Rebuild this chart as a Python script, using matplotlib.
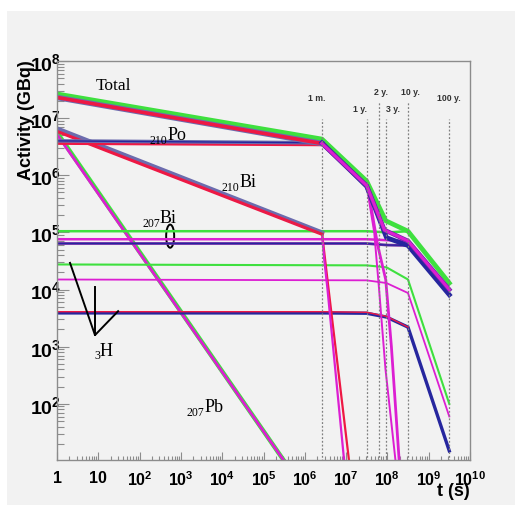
import matplotlib
matplotlib.use("Agg")
import matplotlib.pyplot as plt
from matplotlib.patches import Ellipse, Rectangle
from matplotlib.ticker import LogLocator, FixedLocator, FixedFormatter, NullFormatter

# --- colours
GREEN = '#3ee03e'
MAGENTA = '#dc1ed2'
RED = '#ee1844'
BLUE = '#26269e'
PURPLE = '#6a2aa6'
GRAYBLUE = '#6c6cae'

# --- reference times (s) for the dotted markers
mark_t = [2.63e6, 3.15e7, 6.3e7, 9.46e7, 3.15e8, 3.15e9]
mark_top = [9.6e6, 9.6e6, 2.0e7, 9.6e6, 2.0e7, 9.6e6]
mark_text = ['1 m.', '1 y.', '2 y.', '3 y.', '10 y.', '100 y.']
mark_text_t = [2.0e6, 2.2e7, 6.9e7, 1.38e8, 3.7e8, 3.1e9]
mark_text_a = [2.3e7, 1.5e7, 2.9e7, 1.5e7, 2.9e7, 2.3e7]

# --- Total
tot_g_t = [1, 2.6e6, 3.15e7, 9.1e7, 3.15e8, 3.15e9]
tot_g_a = [2.65e7, 4.3e6, 7.9e5, 1.6e5, 1.05e5, 1.3e4]
tot_r_t = [1, 2.6e6]
tot_r_a = [2.3e7, 3.6e6]
tot_b_t = [2.6e6, 3.15e7, 9.5e7, 3.15e8, 3.15e9]
tot_b_a = [3.7e6, 6.4e5, 8.1e4, 5.9e4, 8.1e3]
tot_m_t = [2.6e6, 3.15e7, 8.5e7, 3.15e8, 3.15e9]
tot_m_a = [3.6e6, 6.6e5, 1.1e5, 7.1e4, 1.0e4]

# --- 210Po
po_t = [1, 2.6e6]
po_r_a = [3.7e6, 3.5e6]
po_b_a = [4.0e6, 3.7e6]
po_end1_t = [3.15e7, 4.8e7, 6.3e7, 9.0e7, 1.6e8]
po_end1_a = [6.6e5, 1.0e5, 1.0e4, 4.0e2, 9.0]
po_end2_t = [3.6e7, 5.8e7, 9.1e7, 1.25e8, 1.95e8]
po_end2_a = [4.5e5, 6.0e4, 1.5e4, 1.0e3, 9.0]

# --- 210Bi
bi210_t = [1, 2.6e6]
bi210_r_a = [6.0e6, 9.5e4]
bi210_b_a = [6.6e6, 1.0e5]
bi210_m_t = [2.6e6, 2.95e6, 3.55e6, 9.1e6]
bi210_m_a = [1.0e5, 3.4e4, 1.0e4, 9.0]
bi210_r2_t = [2.6e6, 3.55e6, 1.2e7]
bi210_r2_a = [1.0e5, 1.45e4, 9.0]

# --- 207Bi
bi207_t = [1, 3.15e7, 1.0e8, 3.15e8]
bi207_g_a = [1.05e5, 1.05e5, 1.0e5, 1.05e5]
bi207_m_a = [7.6e4, 7.6e4, 7.3e4, 7.1e4]
bi207_p_a = [6.4e4, 6.4e4, 6.0e4, 5.9e4]

# --- second pair of flat lines
flat_t = [1, 3.15e7, 9.5e7, 3.15e8, 3.15e9]
flat_g_a = [2.75e4, 2.65e4, 2.45e4, 1.5e4, 1.0e2]
flat_m_a = [1.5e4, 1.45e4, 1.3e4, 8.7e3, 60]

# --- 3H
h3_t = [1, 2.6e6, 3.15e7, 9.5e7, 3.15e8, 3.15e9]
h3_b_a = [3.9e3, 3.9e3, 3.85e3, 3.3e3, 2.2e3, 15]
h3_r_a = [4.1e3, 4.1e3, 4.0e3, 3.4e3, 2.2e3]

# --- 207Pb
pb_t = [1, 3.5e5]
pb_g_a = [5.6e6, 9.0]
pb_m_a = [5.2e6, 9.0]

plt.rcParams['mathtext.fontset'] = 'custom'
plt.rcParams['mathtext.bf'] = 'Liberation Sans:bold'
plt.rcParams['mathtext.rm'] = 'Liberation Sans'

fig = plt.figure(figsize=(5.15, 5.06), dpi=100)
fig.patch.set_facecolor('white')
fig.patches.append(Rectangle((7 / 515, 0), 1, 1 - 12 / 506, transform=fig.transFigure,
                             facecolor='#f2f2f2', edgecolor='none', zorder=-10))
ax = fig.add_axes([57 / 515, 45 / 506, 413 / 515, 399 / 506])
ax.set_facecolor('#f2f2f2')
ax.set_xscale('log')
ax.set_yscale('log')
ax.set_xlim(1, 1e10)
ax.set_ylim(10.4, 1e8)

# dotted markers
ax.vlines(mark_t, 10, mark_top, colors='#808080', linestyles=(0, (1.5, 1.5)), lw=0.9, zorder=5)
for tt, aa, s in zip(mark_text_t, mark_text_a, mark_text):
    ax.text(tt, aa, s, ha='center', va='center', fontsize=6.3, fontweight='bold',
            family='Liberation Sans', color='#333333')

# curves
ax.plot(pb_t, pb_g_a, color=GREEN, lw=3.2)
ax.plot(pb_t, pb_m_a, color=MAGENTA, lw=2.0)

ax.plot(flat_t, flat_g_a, color=GREEN, lw=1.5)
ax.plot(flat_t, flat_m_a, color=MAGENTA, lw=1.3)

ax.plot(h3_t, h3_b_a, color=BLUE, lw=2.4)
ax.plot(h3_t[:5], h3_r_a, color=RED, lw=1.0)

ax.plot(bi207_t, bi207_g_a, color=GREEN, lw=1.8)
ax.plot(bi207_t, bi207_m_a, color=MAGENTA, lw=1.8)
ax.plot(bi207_t, bi207_p_a, color=PURPLE, lw=2.0)
ax.plot(bi207_t, bi207_p_a, color=BLUE, lw=0.8)

ax.plot(bi210_r2_t, bi210_r2_a, color=RED, lw=1.6)
ax.plot(bi210_m_t, bi210_m_a, color=MAGENTA, lw=1.6)
ax.plot(bi210_t, bi210_r_a, color=RED, lw=3.0)
ax.plot(bi210_t, bi210_b_a, color=GRAYBLUE, lw=3.0)
ax.plot(bi210_t, bi210_r_a, color=RED, lw=1.5)

ax.plot(po_end1_t, po_end1_a, color=MAGENTA, lw=1.4)
ax.plot(po_end2_t, po_end2_a, color=MAGENTA, lw=2.0)

ax.plot(po_t, po_r_a, color=RED, lw=3.0)
ax.plot(po_t, po_b_a, color=GRAYBLUE, lw=2.6)
ax.plot(po_t, po_b_a, color=BLUE, lw=1.0)

ax.plot(tot_g_t, tot_g_a, color=GREEN, lw=3.4)
ax.plot(tot_r_t, tot_r_a, color=GRAYBLUE, lw=4.0)
ax.plot(tot_r_t, tot_r_a, color=RED, lw=2.6)
ax.plot(tot_b_t, tot_b_a, color=BLUE, lw=3.4)
ax.plot(tot_m_t, tot_m_a, color=PURPLE, lw=3.2)
ax.plot(tot_m_t, tot_m_a, color=MAGENTA, lw=2.2)

# labels in the plot
serif = 'Liberation Serif'
def iso_label(t, a, mass, sym):
    ax.annotate(sym, (t, a), ha='left', va='baseline', fontsize=13, family=serif)
    ax.annotate(mass, (t, a), xytext=(0, -2.5), textcoords='offset points',
                ha='right', va='baseline', fontsize=8.5, family=serif)

ax.text(8.8, 3.2e7, 'Total', ha='left', va='baseline', fontsize=12.5, family=serif)
iso_label(480, 4.3e6, '210', 'Po')
iso_label(2.6e4, 6.4e5, '210', 'Bi')
iso_label(309, 1.5e5, '207', 'Bi')
iso_label(11, 720, '3', 'H')
iso_label(3.7e3, 74, '207', 'Pb')

ax.add_patch(Ellipse((0.274, 0.561), 0.0194, 0.058, transform=ax.transAxes,
                     fill=False, edgecolor='black', lw=1.4))
ax.plot([0.0315, 0.092, 0.148], [0.494, 0.313, 0.373], color='black', lw=1.4,
        transform=ax.transAxes)
ax.plot([0.092, 0.092], [0.313, 0.434], color='black', lw=1.4, transform=ax.transAxes)

# axes styling
for side in ['top', 'right', 'left', 'bottom']:
    ax.spines[side].set_color('#8c8c8c')
    ax.spines[side].set_linewidth(1.0)

xt = [10.0 ** k for k in range(11)]
xl = ['1', '10'] + [r'$\mathbf{10^{%d}}$' % k for k in range(2, 11)]
ax.xaxis.set_major_locator(FixedLocator(xt))
ax.xaxis.set_major_formatter(FixedFormatter(xl))
ax.xaxis.set_minor_locator(LogLocator(base=10, subs=range(2, 10), numticks=20))
ax.xaxis.set_minor_formatter(NullFormatter())
yt = [10.0 ** k for k in range(2, 9)]
yl = [r'$\mathbf{10^{%d}}$' % k for k in range(2, 9)]
ax.yaxis.set_major_locator(FixedLocator(yt))
ax.yaxis.set_major_formatter(FixedFormatter(yl))
ax.yaxis.set_minor_locator(LogLocator(base=10, subs=range(2, 10), numticks=20))
ax.yaxis.set_minor_formatter(NullFormatter())

ax.tick_params(axis='both', which='both', direction='in', top=False, right=False,
               color='#8c8c8c', width=0.8)
ax.tick_params(axis='y', which='major', length=8.6, pad=-3, labelsize=14)
ax.tick_params(axis='y', which='minor', length=5)
ax.tick_params(axis='x', which='major', length=5.8, pad=7, labelsize=11.5)
ax.tick_params(axis='x', which='minor', length=2.9)
for lab in ax.get_xticklabels() + ax.get_yticklabels():
    lab.set_fontweight('bold')
    lab.set_family('Liberation Sans')

ax.text(-0.073, 1.005, 'Activity (GBq)', rotation=90, ha='center', va='top',
        transform=ax.transAxes, fontsize=13, fontweight='bold', family='Liberation Sans')
ax.text(1.0, -0.055, 't (s)', ha='right', va='top', transform=ax.transAxes,
        fontsize=13, fontweight='bold', family='Liberation Sans')

fig.savefig('out.png', dpi=100, facecolor=fig.get_facecolor())
